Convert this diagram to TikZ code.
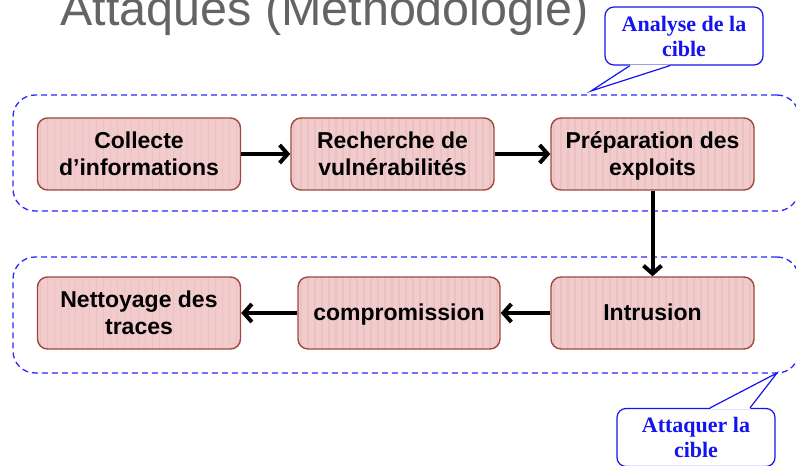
\documentclass[tikz,border=0pt]{standalone}
\usepackage{fontspec}
\setmainfont{Liberation Sans}
\newfontfamily\calloutfont{Liberation Serif}
\usetikzlibrary{arrows.meta}
\definecolor{stepfill}{RGB}{242,204,204}
\definecolor{stepstripe}{RGB}{235,194,194}
\definecolor{stepborder}{RGB}{160,72,62}
\definecolor{zoneblue}{RGB}{40,40,255}
\definecolor{calloutblue}{RGB}{20,20,240}
\definecolor{titlegray}{RGB}{100,100,100}

% invisible rules giving every step label the same height and depth
\newcommand\stepTop{\rule{0pt}{20.5pt}}
\newcommand\stepBot{\rule[-5pt]{0pt}{5pt}}

\tikzset{
  stepbox/.style={draw=stepborder, line width=1.4pt, fill=stepfill,
    rounded corners=10pt, minimum width=203pt, minimum height=72pt,
    inner sep=0pt, align=center,
    font=\fontsize{23}{26.5}\selectfont\bfseries,
    path picture={
      \foreach \k in {3,10,...,210}
        \draw[stepstripe, line width=1.2pt]
          ([xshift=\k pt]path picture bounding box.south west) --
          ([xshift=\k pt]path picture bounding box.north west);
    }},
  zone/.style={draw=zoneblue, line width=1.3pt, dash pattern=on 6pt off 4pt,
    rounded corners=22pt, minimum width=786pt, minimum height=116pt, inner sep=0pt},
  callout/.style={draw=calloutblue, line width=1.2pt, fill=white,
    rounded corners=9pt, minimum width=158pt, minimum height=58pt,
    inner sep=0pt, align=center, text=calloutblue,
    font=\calloutfont\bfseries\fontsize{22}{25}\selectfont},
  pointer/.style={draw=calloutblue, line width=1.2pt, line join=miter},
  flow/.style={line width=4pt, -{Straight Barb[length=8pt,width=18pt]}},
}

\begin{document}
\begin{tikzpicture}[x=1pt,y=-1pt]
  \useasboundingbox (0,0) rectangle (796,466);
  \clip (0,0) rectangle (796,466);

  % heading of the slide
  \node[anchor=base west, inner sep=0pt, text=titlegray,
        font=\fontsize{48.5}{48.5}\selectfont] (title) at (60,25) {Attaques (Méthodologie)};

  % the two phases
  \node[zone] (zoneA) at (406,153) {};
  \node[zone] (zoneB) at (406,315) {};

  % steps of the attack
  \node[stepbox] (collecte) at (139,154)   {\stepTop Collecte\\d’informations\stepBot};
  \node[stepbox] (recherche) at (392.5,154) {\stepTop Recherche de\\vulnérabilités\stepBot};
  \node[stepbox] (prep) at (652.5,154)     {\stepTop Préparation des\\exploits\stepBot};
  \node[stepbox] (intrusion) at (652.5,313) {\stepTop Intrusion\stepBot};
  \node[stepbox, minimum width=202pt] (compro) at (399,313) {\stepTop compromission\stepBot};
  \node[stepbox] (nettoyage) at (139,313)  {\stepTop Nettoyage des\\traces\stepBot};

  \draw[flow] (collecte) -- (recherche);
  \draw[flow] (recherche) -- (prep);
  \draw[flow] (prep) -- (intrusion);
  \draw[flow] (intrusion) -- (compro);
  \draw[flow] (compro) -- (nettoyage);

  % callouts naming the phases
  \node[callout] (labelA) at (684,36) {Analyse de la\\cible};
  \coordinate (tipA) at (591,91);
  \fill[white] ([xshift=-54pt,yshift=1pt]labelA.south) -- (tipA) -- ([xshift=-14pt,yshift=1pt]labelA.south) -- cycle;
  \draw[pointer] ([xshift=-54pt]labelA.south) -- (tipA) -- ([xshift=-14pt]labelA.south);

  \node[callout] (labelB) at (696,437.5) {Attaquer la\\cible};
  \coordinate (tipB) at (777,373);
  \fill[white] ([xshift=14pt,yshift=-1pt]labelB.north) -- (tipB) -- ([xshift=54pt,yshift=-1pt]labelB.north) -- cycle;
  \draw[pointer] ([xshift=14pt]labelB.north) -- (tipB) -- ([xshift=54pt]labelB.north);
\end{tikzpicture}
\end{document}
